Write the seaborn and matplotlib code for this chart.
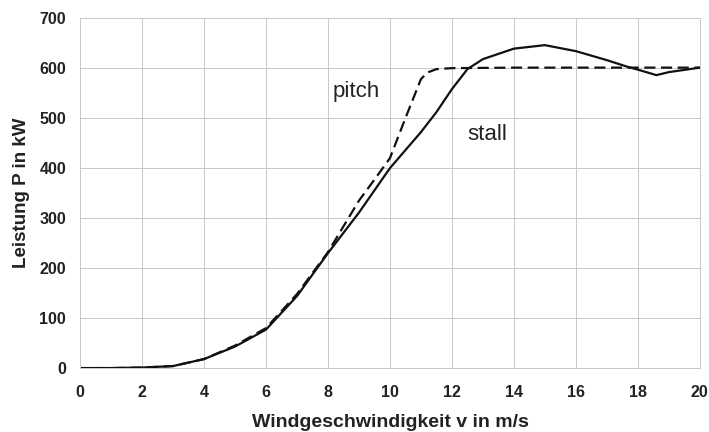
import pandas as pd
import numpy as np
import matplotlib.pyplot as plt
import seaborn as sns

# ── Daten ──────────────────────────────────────────────────────────────────
v_stall = [0, 1, 2, 3, 4, 5, 6, 7, 8, 9, 10, 11, 11.5, 12, 12.5, 13, 14, 15,
           16, 17, 17.7, 18, 18.6, 19, 20]
p_stall = [0, 0, 1, 4, 18, 43, 77, 144, 230, 311, 400, 472, 512, 558, 598,
           618, 639, 646, 634, 616, 602, 597, 586, 592, 601]

v_pitch = [0, 1, 2, 3, 4, 5, 6, 7, 8, 9, 9.5, 10, 10.5, 11, 11.2, 11.5, 12,
           14, 16, 18, 20]
p_pitch = [0, 0, 1, 4, 18, 45, 80, 148, 232, 335, 377, 420, 500, 578, 591,
           598, 600, 601, 601, 601, 601]

df = pd.concat([
    pd.DataFrame({'v': v_stall, 'P': p_stall, 'typ': 'stall'}),
    pd.DataFrame({'v': v_pitch, 'P': p_pitch, 'typ': 'pitch'}),
])

# ── Plot ───────────────────────────────────────────────────────────────────
sns.set_style('whitegrid')
plt.rcParams['font.family'] = ['Liberation Sans', 'DejaVu Sans']

fig, ax = plt.subplots(figsize=(7.09, 4.32), dpi=100)
fig.subplots_adjust(left=0.113, right=0.987, top=0.958, bottom=0.148)

sns.lineplot(data=df, x='v', y='P', style='typ', color='#111111',
             dashes={'stall': '', 'pitch': (5, 2.5)}, linewidth=1.6,
             sort=False, legend=False, ax=ax)

ax.set_xlim(0, 20)
ax.set_ylim(0, 700)
ax.set_xticks(np.arange(0, 21, 2))
ax.set_yticks(np.arange(0, 701, 100))
ax.grid(color='#c8c8c8', linewidth=0.7)
for s in ax.spines.values():
    s.set_color('#c8c8c8')
    s.set_linewidth(0.7)
ax.tick_params(axis='both', direction='out', length=4, width=0.7,
               color='#b0b0b0', labelsize=11.5)
ax.tick_params(axis='y', pad=6)
ax.tick_params(axis='x', pad=8)
for lab in ax.get_xticklabels() + ax.get_yticklabels():
    lab.set_fontweight('bold')
    lab.set_color('#222222')

ax.set_xlabel('Windgeschwindigkeit v in m/s', fontsize=14, fontweight='bold',
              color='#222222', labelpad=10)
ax.set_ylabel('Leistung P in kW', fontsize=13.5, fontweight='bold',
              color='#222222', labelpad=7)

ax.text(8.9, 553, 'pitch', fontsize=16, ha='center', va='center', color='#222222')
ax.text(13.13, 467, 'stall', fontsize=16, ha='center', va='center', color='#222222')

plt.savefig('out.png', dpi=100)
